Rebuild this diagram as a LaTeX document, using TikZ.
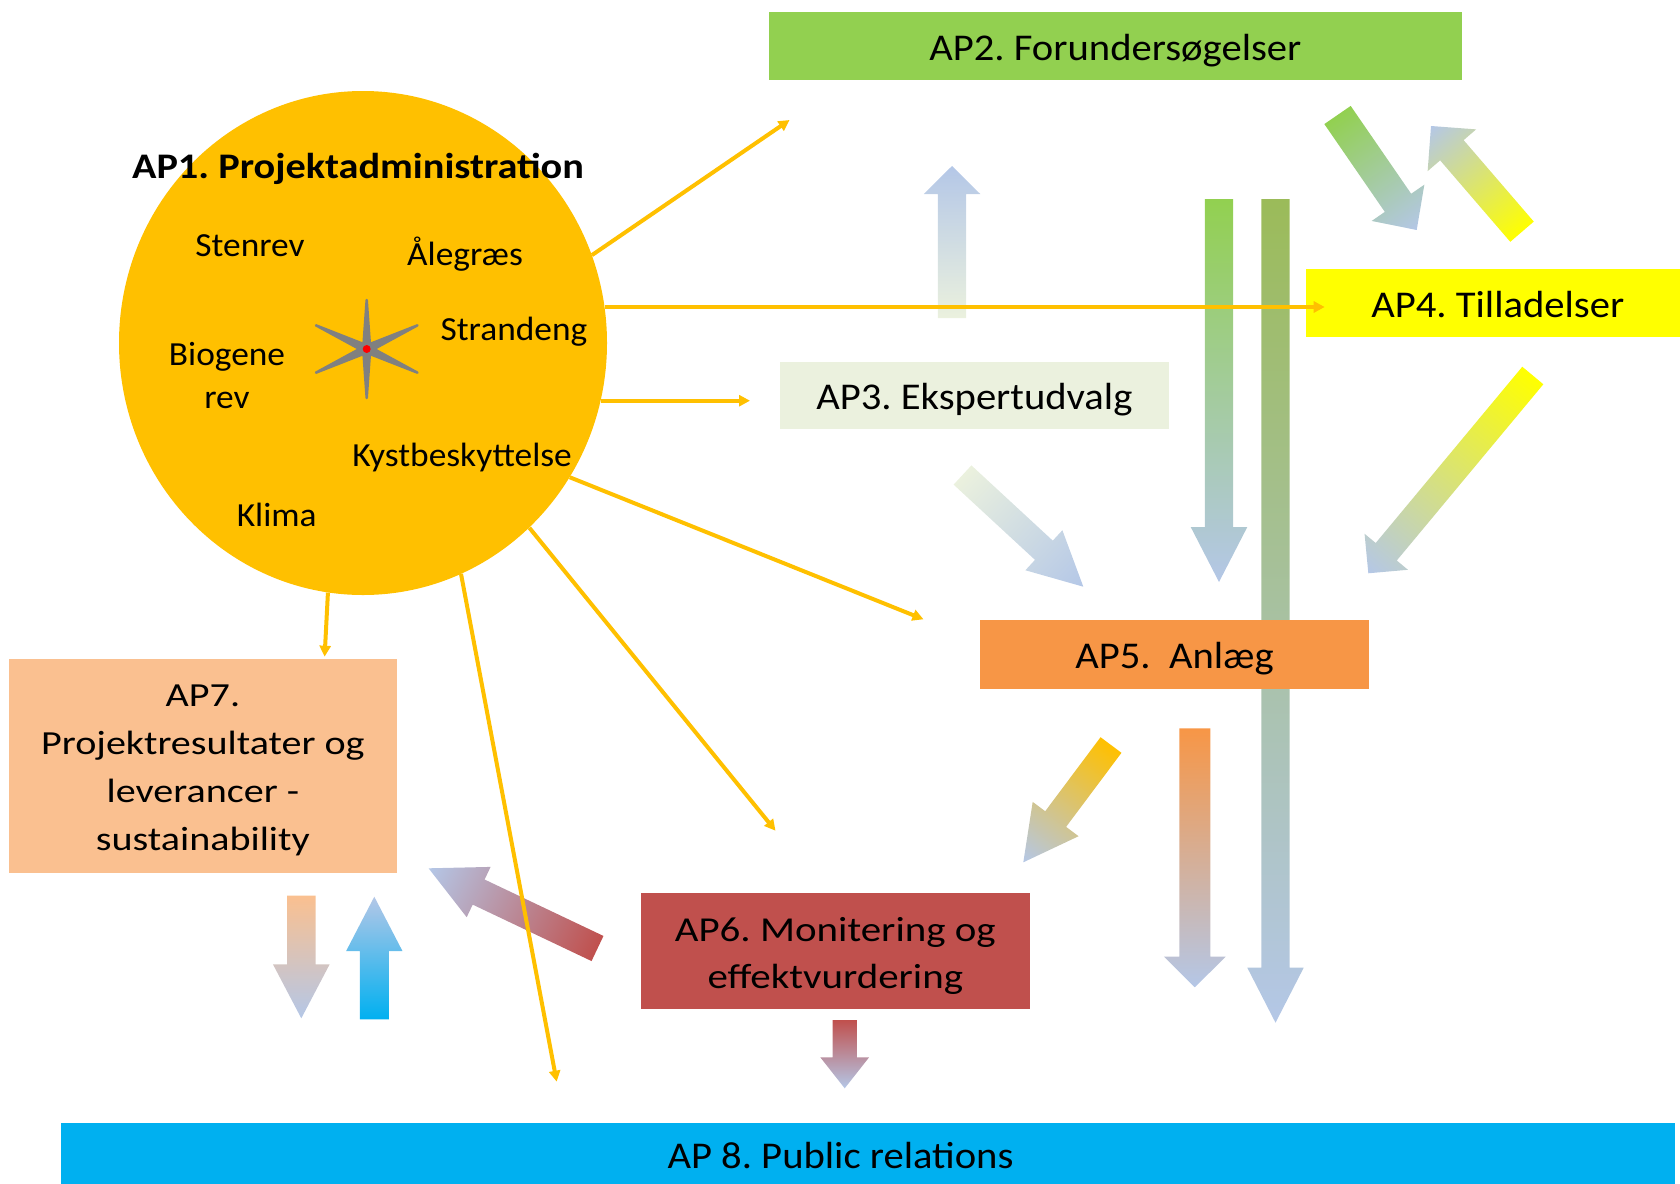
\documentclass[tikz,border=0pt]{standalone}
\usepackage{fontspec}
\setmainfont{Carlito}
\newfontfamily\boxfont{Carlito}[FakeStretch=1.075]
\newfontfamily\subfont{Carlito}[FakeStretch=1.05]
\newfontfamily\sixfont{Carlito}[FakeStretch=1.17]
\newfontfamily\sevenfont{Carlito}[FakeStretch=1.19]
\newfontfamily\titlefont{Carlito}[FakeStretch=1.12]
\usetikzlibrary{arrows.meta,shapes.geometric,calc}
\frenchspacing

\definecolor{apgold}{HTML}{FFC000}
\definecolor{apgreen}{HTML}{92D050}
\definecolor{appale}{HTML}{EBF1DE}
\definecolor{apyellow}{HTML}{FFFF00}
\definecolor{aporange}{HTML}{F79646}
\definecolor{apred}{HTML}{C0504D}
\definecolor{appeach}{HTML}{FAC090}
\definecolor{apcyan}{HTML}{00B0F0}
\definecolor{apblue}{HTML}{B4C7E7}
\definecolor{apolive}{HTML}{9BBB59}

% block arrow: tail, tip, shaft, head width, head length, tail colour, tip colour
\newcommand\blockarrow[7]{%
  \path let \p1=(#1), \p2=(#2),
            \n1={atan2((\y2)-(\y1),(\x2)-(\x1))},
            \n2={veclen((\x2)-(\x1),(\y2)-(\y1))} in
    \pgfextra{\xdef\baX{\x1}\xdef\baY{\y1}\xdef\baA{\n1}\xdef\baL{\n2}};
  \begin{scope}[transform canvas={shift={(\baX,\baY)},rotate=\baA}]
    \shade[left color=#6, right color=#7]
      (0,-#3/2) -- (\baL-#5,-#3/2) -- (\baL-#5,-#4/2) -- (\baL,0)
      -- (\baL-#5,#4/2) -- (\baL-#5,#3/2) -- (0,#3/2) -- cycle;
  \end{scope}}

\begin{document}
\begin{tikzpicture}[x=1pt,y=-1pt,
    wp/.style={rectangle, inner sep=0pt, font=\boxfont\fontsize{37.8}{46}\selectfont,
      text height=28pt, text depth=0pt},
    wpbox/.style={rectangle, inner sep=0pt},
    sub/.style={anchor=base, align=center, font=\subfont\fontsize{33.7}{43}\selectfont},
    feed/.style={draw=apgold, line width=4pt, -{Triangle[length=11pt,width=11pt]}}]
\useasboundingbox (0,0) rectangle (1680,1183);

% block arrows (behind the boxes)
\coordinate (a32-s) at (952,318);      \coordinate (a32-e) at (952,166);
\coordinate (a24-s) at (1337.5,115);   \coordinate (a24-e) at (1416.7,230);
\coordinate (a42-s) at (1522,231.7);   \coordinate (a42-e) at (1431,126);
\coordinate (a45-s) at (1532.8,375.5); \coordinate (a45-e) at (1368.3,573.3);
\coordinate (a25-s) at (1219,199);     \coordinate (a25-e) at (1219,582);
\coordinate (a28-s) at (1275.5,199);   \coordinate (a28-e) at (1275.5,1022.7);
\coordinate (a35-s) at (962.5,475);    \coordinate (a35-e) at (1083.3,586.7);
\coordinate (a56-s) at (1111,745);     \coordinate (a56-e) at (1023.3,862.3);
\coordinate (a58-s) at (1194.8,728.3); \coordinate (a58-e) at (1194.8,987.3);
\coordinate (a67-s) at (597.5,948.5);  \coordinate (a67-e) at (428.6,868.3);
\coordinate (a7d-s) at (301.3,895.7);  \coordinate (a7d-e) at (301.3,1018.3);
\coordinate (a7u-s) at (374.3,1019.3); \coordinate (a7u-e) at (374.3,896.7);
\coordinate (a68-s) at (844.7,1020);   \coordinate (a68-e) at (844.7,1088.3);

\blockarrow{a32-s}{a32-e}{28.4}{56.5}{28}{appale}{apblue}
\blockarrow{a24-s}{a24-e}{32}{64}{33}{apgreen}{apblue}
\blockarrow{a42-s}{a42-e}{31}{64}{32}{apyellow}{apblue}
\blockarrow{a45-s}{a45-e}{27.4}{56.4}{28}{apyellow}{apblue}
\blockarrow{a25-s}{a25-e}{28.3}{56.6}{55}{apgreen}{apblue}
\blockarrow{a28-s}{a28-e}{28.4}{56.4}{55}{apolive}{apblue}
\blockarrow{a35-s}{a35-e}{26.2}{54.5}{53.7}{appale}{apblue}
\blockarrow{a56-s}{a56-e}{26.1}{57.3}{54}{apgold}{apblue}
\blockarrow{a58-s}{a58-e}{31}{61.7}{30.6}{aporange}{apblue}
\blockarrow{a67-s}{a67-e}{27.8}{55.7}{55.4}{apred}{apblue}
\blockarrow{a7d-s}{a7d-e}{28.6}{56.7}{54}{appeach}{apblue}
\blockarrow{a7u-s}{a7u-e}{29}{56.3}{54.3}{apcyan}{apblue}
\blockarrow{a68-s}{a68-e}{24.4}{48.8}{31}{apred}{apblue}

% work packages
\node[wp, fill=apgreen, minimum width=692.6pt, minimum height=68pt] (ap2) at (1115.3,46) {AP2. Forundersøgelser};
\node[wp, fill=appale, minimum width=388.6pt, minimum height=67pt] (ap3) at (974.3,395.5) {AP3. Ekspertudvalg};
\node[wp, fill=apyellow, minimum width=384.5pt, minimum height=68pt] (ap4) at (1497.8,303) {AP4. Tilladelser};
\node[wp, fill=aporange, minimum width=389pt, minimum height=68.7pt] (ap5) at (1174.5,654.3) {AP5.\ \ Anlæg};
\node[wpbox, fill=apred, minimum width=388.5pt, minimum height=116pt] (ap6) at (835.3,951.3) {};
\node[align=center, font=\sixfont\fontsize{35}{47}\selectfont] (ap6txt) at (835.3,955.6) {AP6. Monitering og\\effektvurdering};
\node[wpbox, fill=appeach, minimum width=388pt, minimum height=213.7pt] (ap7) at (202.9,765.8) {};
\node[align=center, font=\sevenfont\fontsize{33.7}{48.3}\selectfont] (ap7txt) at (202.9,770.4) {AP7.\\Projektresultater og\\leverancer -\\sustainability};
\node[wpbox, fill=apcyan, minimum width=1614pt, minimum height=63.3pt] (ap8) at (868,1154.3) {};
\node[wp] (ap8txt) at (840.5,1154) {AP 8. Public relations};

% AP1 circle
\node[ellipse, fill=apgold, minimum width=488pt, minimum height=504pt, inner sep=0pt] (ap1) at (363,343) {};
\node[anchor=base, font=\titlefont\fontsize{36}{40}\selectfont\bfseries] (ap1t) at (358,178.3) {AP1. Projektadministration};
\node[sub] (sten) at (250,256.7) {Stenrev};
\node[sub] (aale) at (465,265) {Ålegræs};
\node[sub] (strand) at (514,340) {Strandeng};
\node[sub] (biog) at (227,408.3) {Biogene\\rev};
\node[sub] (kyst) at (462,466.7) {Kystbeskyttelse};
\node[sub] (klima) at (276.7,526.7) {Klima};

\foreach \ang/\len in {90/49,25/56,-25/56}
  \filldraw[gray, line width=2.5pt, line join=round, shift={(366.7,349)}, rotate=\ang]
    (-\len,0) -- (0,3.5) -- (\len,0) -- (0,-3.5) -- cycle;
\fill[red] (366.7,349) circle[radius=4pt];

% links out of AP1
\coordinate (e2) at (789.6,120);
\coordinate (e4) at (1324.7,307);
\coordinate (e3) at (750,400.7);
\coordinate (e5) at (923.5,619.3);
\coordinate (e6) at (775.5,830.7);
\coordinate (e8) at (556.7,1081.7);
\coordinate (e7) at (324.6,656.7);
\draw[feed] (ap1.21) -- (e2);
\draw[feed] (ap1.8.5 |- e4) -- (e4);
\draw[feed] (ap1.-13.6 |- e3) -- (e3);
\draw[feed] (ap1.-33.2) -- (e5);
\draw[feed] (ap1.-48.8) -- (e6);
\draw[feed] (ap1.-67) -- (e8);
\draw[feed] (ap1.-98) -- (e7);
\end{tikzpicture}
\end{document}
